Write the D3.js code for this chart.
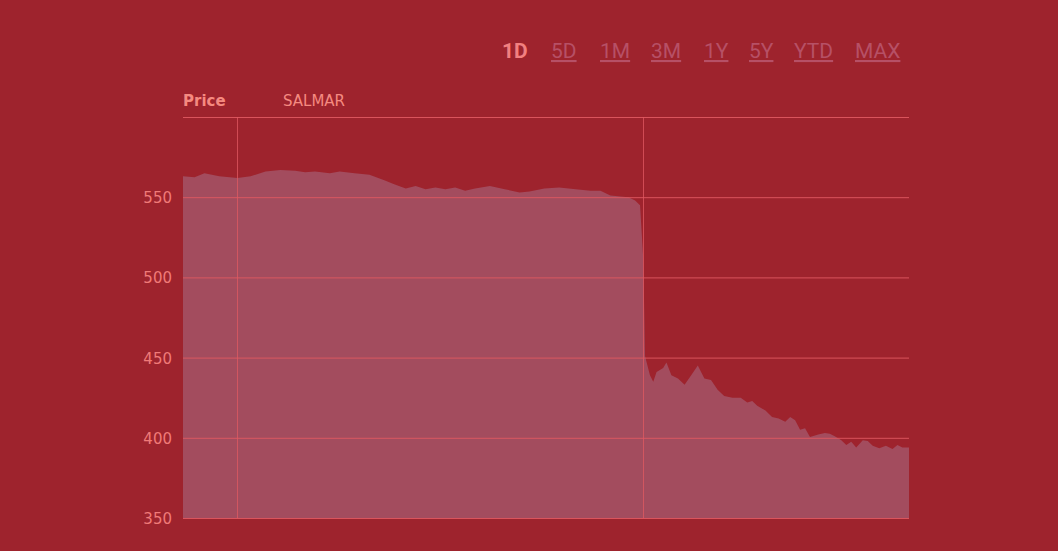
<!DOCTYPE html>
<html><head><meta charset="utf-8">
<script src="https://cdn.jsdelivr.net/npm/d3@7"></script>
<style>body{margin:0;background:#9e232d;}svg{display:block}</style>
</head><body>
<svg id="c" width="1058" height="551"></svg>
<script>
const minutes=[0,7,13,22,33,41,50,59,68,74,80,89,95,104,113,122,128,135,141,147,153,159,165,171,177,186,195,204,210,219,228,238,247,253,259,265,270,274,277,279,280,283,285,287,291,293,296,300,304,308,312,316,320,324,328,333,338,342,345,348,353,357,361,365,368,371,374,377,380,385,389,392,395,399,402,405,408,412,415,418,422,426,430,433,436,440];
const prices=[563,562.5,565,563,562,563,566,567,566.5,565.5,566,565,566,565,564,560.5,558,555.5,557,555,556,555,556,554,555.5,557,555,553,553.5,555.5,556,555,554,554,551,550.5,550,548,545,511,451,439,435,441,443.5,447,439,437,433,439,445,437,436,430,426,425,425,422,423,420,417,413,412,410,413,411,405,406,400.5,402,403,402.5,401,398.5,395.5,397.5,394,398.5,398,395,393.5,395,393,395.5,394,394];
const yTicks=[350,400,450,500,550];
const xGrid=[33,279];
const ranges=["1D","5D","1M","3M","1Y","5Y","YTD","MAX"];

const svg=d3.select("#c");
const x=d3.scaleLinear().domain([0,440]).range([183,909]);
const y=d3.scaleLinear().domain([350,600]).range([518,117]);
const data=minutes.map((m,i)=>({m,p:prices[i]}));
svg.append("path").datum(data).attr("fill","#a34c5e")
 .attr("d",d3.area().x(d=>x(d.m)).y0(y(350)).y1(d=>y(d.p)));
const grid="#e05a62";
svg.selectAll(".hg").data([...yTicks,600]).join("line").attr("x1",183).attr("x2",909)
 .attr("y1",d=>y(d)+0.5).attr("y2",d=>y(d)+0.5).attr("stroke",grid).attr("stroke-opacity",0.9);
svg.selectAll(".vg").data(xGrid).join("line").attr("x1",d=>Math.round(x(d))+0.5).attr("x2",d=>Math.round(x(d))+0.5)
 .attr("y1",117).attr("y2",518).attr("stroke",grid).attr("stroke-opacity",0.75);
svg.selectAll(".yt").data(yTicks).join("text").attr("x",172).attr("y",d=>y(d)+6)
 .attr("text-anchor","end").attr("fill","#f07a78").attr("font-family","DejaVu Sans").attr("font-size",15).text(d=>d);
svg.append("text").attr("x",183).attr("y",106).attr("fill","#f58a80").attr("font-family","DejaVu Sans")
 .attr("font-weight","bold").attr("font-size",15).text("Price");
svg.append("text").attr("x",283).attr("y",106).attr("fill","#f58a80").attr("font-family","DejaVu Sans")
 .attr("font-size",15).text("SALMAR");
const bx=[502,551,600,651,704,749,794,855];
svg.selectAll(".rb").data(ranges).join("text").attr("x",(d,i)=>bx[i]).attr("y",58)
 .attr("font-family","Roboto").attr("font-size",21)
 .attr("font-weight",(d,i)=>i==0?"bold":"normal")
 .attr("fill",(d,i)=>i==0?"#f28080":"#b65066")
 .attr("text-decoration",(d,i)=>i==0?"none":"underline").text(d=>d);
</script></body></html>
